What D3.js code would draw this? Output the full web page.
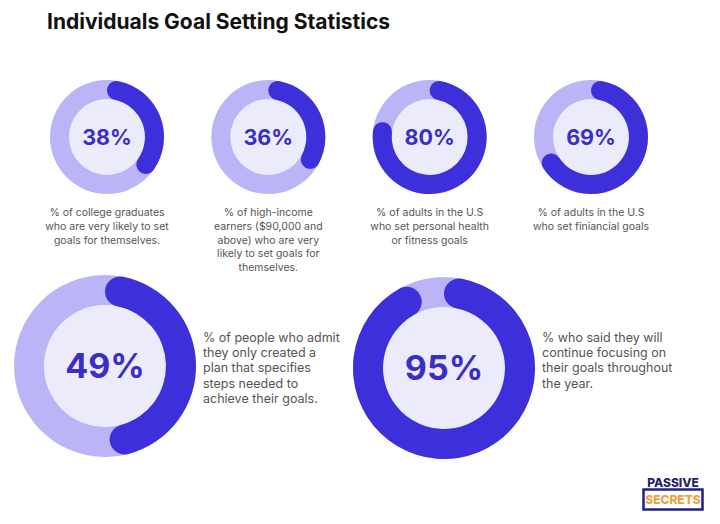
<!DOCTYPE html>
<html>
<head>
<meta charset="utf-8">
<script src="https://cdn.jsdelivr.net/npm/d3@7"></script>
<style>
  html, body { margin: 0; padding: 0; background: #ffffff; }
  svg { display: block; }
</style>
</head>
<body>
<svg id="chart" width="720" height="524"></svg>
<script>
// ---- data ----
const title = "Individuals Goal Setting Statistics";
const smallPercents = [38, 36, 80, 69];
const smallCaptions = [
  ["% of college graduates", "who are very likely to set", "goals for themselves."],
  ["% of high-income", "earners ($90,000 and", "above) who are very", "likely to set goals for", "themselves."],
  ["% of adults in the U.S", "who set personal health", "or fitness goals"],
  ["% of adults in the U.S", "who set finiancial goals"]
];
const bigPercents = [49, 95];
const bigCaptions = [
  ["% of people who admit", "they only created a", "plan that specifies", "steps needed to", "achieve their goals."],
  ["% who said they will", "continue focusing on", "their goals throughout", "the year."]
];
const logoTop = "PASSIVE";
const logoBottom = "SECRETS";

// ---- styles ----
const DARK = "#3d2fd9";
const RING = "#bbb4f6";
const CENTER = "#ecebfc";
const LABEL = "#3a2ec6";
const TEXT = "#555555";
const FONT = "Inter, 'Noto Sans', sans-serif";

const svg = d3.select("#chart");

svg.append("text")
  .attr("x", 47).attr("y", 29)
  .attr("font-family", FONT).attr("font-weight", 700)
  .attr("font-size", 21).attr("fill", "#111")
  .text(title);

const angle = d3.scaleLinear().domain([0, 100]).range([0, 2 * Math.PI]);

function donut(g, value, rOuter, rInner, labelSize) {
  const ring = d3.arc().innerRadius(rInner).outerRadius(rOuter);
  g.append("circle").attr("r", rInner).attr("fill", CENTER);
  g.append("path")
    .attr("d", ring({startAngle: 0, endAngle: 2 * Math.PI}))
    .attr("fill", RING);
  const arc = d3.arc().innerRadius(rInner).outerRadius(rOuter)
    .cornerRadius((rOuter - rInner) / 2);
  g.append("path")
    .attr("d", arc({startAngle: 0, endAngle: angle(value)}))
    .attr("fill", DARK);
  g.append("text")
    .attr("text-anchor", "middle").attr("dy", "0.36em")
    .attr("font-family", FONT).attr("font-weight", 700)
    .attr("font-size", labelSize).attr("fill", LABEL)
    .text(value + "%");
}

// top row
const xSmall = d3.scalePoint().domain(d3.range(smallPercents.length)).range([107, 591]);
const ySmall = 137;
smallPercents.forEach((v, i) => {
  const g = svg.append("g").attr("transform", `translate(${xSmall(i)},${ySmall})`);
  donut(g, v, 57, 38, 21.5);
  const t = svg.append("text")
    .attr("text-anchor", "middle")
    .attr("font-family", FONT).attr("font-size", 10.5).attr("fill", TEXT);
  smallCaptions[i].forEach((line, j) => {
    t.append("tspan").attr("x", xSmall(i)).attr("y", 216 + j * 13.8).text(line);
  });
});

// bottom row
const xBig = d3.scalePoint().domain(d3.range(bigPercents.length)).range([105, 444]);
const yBig = [366, 368];
bigPercents.forEach((v, i) => {
  const g = svg.append("g").attr("transform", `translate(${xBig(i)},${yBig[i]})`);
  donut(g, v, 91, 61, 34);
  const tx = xBig(i) + 98;
  const t = svg.append("text")
    .attr("font-family", FONT).attr("font-size", 12.5).attr("fill", TEXT);
  bigCaptions[i].forEach((line, j) => {
    t.append("tspan").attr("x", tx).attr("y", 342 + j * 15.2).text(line);
  });
});

// logo
const logo = svg.append("g");
logo.append("text")
  .attr("x", 673).attr("y", 487).attr("text-anchor", "middle")
  .attr("font-family", FONT).attr("font-weight", 800).attr("font-size", 12)
  .attr("fill", "#1f1f6b").text(logoTop);
logo.append("rect")
  .attr("x", 643.5).attr("y", 489.5).attr("width", 59).attr("height", 20)
  .attr("fill", "#fff").attr("stroke", "#1f1f8a").attr("stroke-width", 2.5);
logo.append("text")
  .attr("x", 673).attr("y", 504).attr("text-anchor", "middle")
  .attr("font-family", FONT).attr("font-weight", 800).attr("font-size", 12)
  .attr("fill", "#e9a33c").text(logoBottom);
</script>
</body>
</html>
